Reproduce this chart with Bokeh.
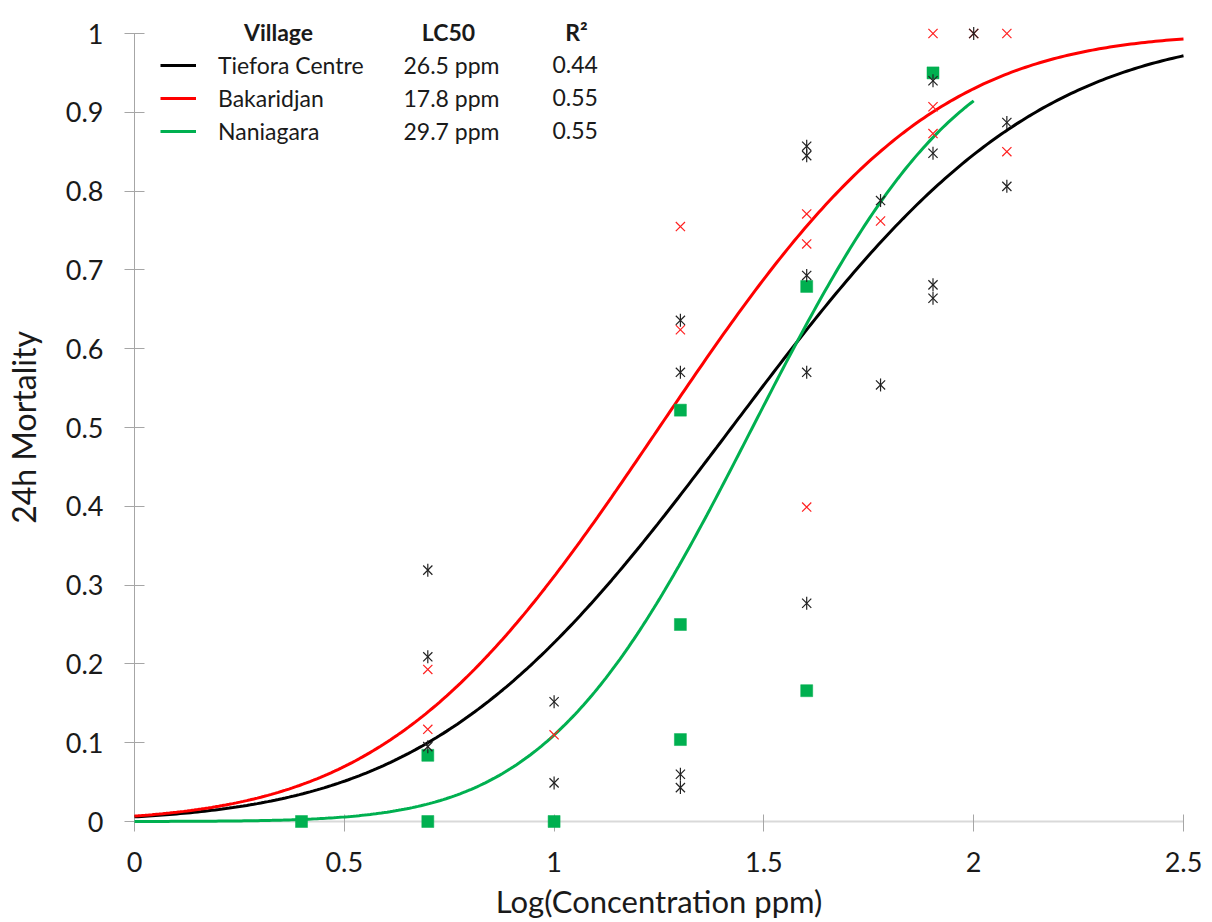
import math
import numpy as np
from bokeh.plotting import figure
from bokeh.models import Range1d, FixedTicker, Legend, LegendItem, Label
from bokeh.core.properties import value
from bokeh.embed import file_html
from bokeh.resources import INLINE

# ---------------- data ----------------
villages = ["Tiefora Centre", "Bakaridjan", "Naniagara"]
lc50_ppm = [26.5, 17.8, 29.7]
r_squared = [0.44, 0.55, 0.55]
probit_sigma = [0.565, 0.508, 0.385]     # slope (spread) of each fitted curve, log units
curve_x_max = [2.5, 2.5, 2.0]
curve_colors = ["#000000", "#ff0000", "#00b050"]
legend_headers = ["Village", "LC50", "R²"]

tiefora_x = [0.699, 0.699, 0.699, 1.0, 1.0, 1.301, 1.301, 1.301, 1.301,
             1.602, 1.602, 1.602, 1.602, 1.602, 1.778, 1.778,
             1.903, 1.903, 1.903, 1.903, 2.0, 2.079, 2.079]
tiefora_y = [0.319, 0.209, 0.095, 0.152, 0.049, 0.636, 0.570, 0.060, 0.043,
             0.857, 0.845, 0.693, 0.570, 0.277, 0.788, 0.554,
             0.940, 0.848, 0.681, 0.664, 1.0, 0.887, 0.806]

bakaridjan_x = [0.699, 0.699, 1.0, 1.301, 1.301, 1.602, 1.602, 1.602, 1.778,
                1.903, 1.903, 1.903, 2.0, 2.079, 2.079]
bakaridjan_y = [0.193, 0.117, 0.110, 0.755, 0.624, 0.771, 0.733, 0.399, 0.762,
                1.0, 0.907, 0.873, 1.0, 1.0, 0.850]

naniagara_x = [0.398, 0.699, 0.699, 1.0, 1.301, 1.301, 1.301, 1.602, 1.602, 1.903]
naniagara_y = [0.0, 0.0, 0.084, 0.0, 0.522, 0.250, 0.104, 0.679, 0.166, 0.950]

x_ticks = [0, 0.5, 1, 1.5, 2, 2.5]
x_tick_labels = ["0", "0.5", "1", "1.5", "2", "2.5"]
y_ticks = [0, 0.1, 0.2, 0.3, 0.4, 0.5, 0.6, 0.7, 0.8, 0.9, 1]
y_tick_labels = ["0", "0.1", "0.2", "0.3", "0.4", "0.5", "0.6", "0.7", "0.8", "0.9", "1"]

FONT = "Lato"

p = figure(width=1212, height=922, x_range=Range1d(0, 2.5), y_range=Range1d(0, 1),
           output_backend="svg", toolbar_location=None,
           min_border_left=133, min_border_right=29, min_border_top=33, min_border_bottom=100)
p.outline_line_color = None
p.xgrid.visible = False
p.ygrid.visible = False
p.background_fill_color = "white"
p.border_fill_color = "white"

# x axis
xa = p.xaxis[0]
xa.ticker = FixedTicker(ticks=x_ticks)
xa.major_label_overrides = {t: s for t, s in zip(x_ticks, x_tick_labels)}
xa.axis_line_color = "#d9d9d9"
xa.axis_line_width = 2
xa.major_tick_line_color = "#a6a6a6"
xa.major_tick_in = 7
xa.major_tick_out = 10
xa.minor_tick_line_color = None
xa.major_label_text_font = FONT
xa.major_label_text_font_size = "27px"
xa.major_label_text_color = "#1a1a1a"
xa.major_label_standoff = 20
xa.axis_label = "Log(Concentration ppm)"
xa.axis_label_text_font = FONT
xa.axis_label_text_font_size = "31px"
xa.axis_label_text_font_style = "normal"
xa.axis_label_text_color = "#1a1a1a"
xa.axis_label_standoff = 7

# y axis
ya = p.yaxis[0]
ya.ticker = FixedTicker(ticks=y_ticks)
ya.major_label_overrides = {t: s for t, s in zip(y_ticks, y_tick_labels)}
ya.axis_line_color = "#a6a6a6"
ya.axis_line_width = 1
ya.major_tick_line_color = "#a6a6a6"
ya.major_tick_in = 10
ya.major_tick_out = 10
ya.minor_tick_line_color = None
ya.major_label_text_font = FONT
ya.major_label_text_font_size = "27px"
ya.major_label_text_color = "#1a1a1a"
ya.major_label_standoff = 21
ya.axis_label = "24h Mortality"
ya.axis_label_text_font = FONT
ya.axis_label_text_font_size = "32px"
ya.axis_label_text_font_style = "normal"
ya.axis_label_text_color = "#1a1a1a"
ya.axis_label_standoff = 20


def probit(x, mu, sigma):
    return 0.5 * (1.0 + math.erf((x - mu) / (sigma * math.sqrt(2.0))))


# fitted dose-response curves (probit model from LC50 + slope)
curve_renderers = []
for lc, sg, xm, col in zip(lc50_ppm, probit_sigma, curve_x_max, curve_colors):
    mu = math.log10(lc)
    xs = np.linspace(0, xm, 300)
    ys = [probit(v, mu, sg) for v in xs]
    r = p.line(xs, ys, line_color=col, line_width=3, level="overlay")
    curve_renderers.append(r)

# observed points
p.scatter(naniagara_x, naniagara_y, marker="square", size=12,
          fill_color="#00b050", line_color="#00b050", line_width=0.5, level="overlay")
p.scatter(bakaridjan_x, bakaridjan_y, marker="x", size=13,
          line_color="#ff2020", line_width=1.2, level="overlay")
p.scatter(tiefora_x, tiefora_y, marker="x", size=13,
          line_color="#222222", line_width=1.2, level="overlay")
p.scatter(tiefora_x, tiefora_y, marker="dash", size=13, angle=math.pi / 2,
          line_color="#222222", line_width=1.2, level="overlay")

# legend (line swatches + village names)
legend = Legend(items=[LegendItem(label=v, renderers=[r]) for v, r in zip(villages, curve_renderers)],
                location=(26, 676), orientation="vertical",
                border_line_alpha=0, background_fill_alpha=0, padding=0, margin=0,
                spacing=5, glyph_width=36, glyph_height=26, label_height=26, label_standoff=22,
                label_text_font=FONT, label_text_font_size="23px", label_text_color="#1a1a1a")
p.add_layout(legend)

# legend table headers (anchored at the frame's top-left corner, offset in pixels)
p.text(x=[0, 0, 0], y=[1, 1, 1], text=legend_headers,
       x_offset=[144, 314, 442], y_offset=[-2, -2, -2],
       text_font=value(FONT), text_font_size="23px", text_font_style="bold",
       text_color="#1a1a1a", text_align="center", text_baseline="middle", level="overlay")

# LC50 and R² columns
cell_style = dict(x_units="screen", y_units="screen", text_font=FONT, text_font_size="23px",
                  text_color="#1a1a1a", text_align="left", text_baseline="middle")
row_y = [757, 724, 691]
for lc, r2, ry in zip(lc50_ppm, r_squared, row_y):
    p.add_layout(Label(x=269, y=ry, text=f"{lc} ppm", **cell_style))
    p.add_layout(Label(x=418, y=ry, text=f"{r2:.2f}", **cell_style))

open("out.html", "w").write(file_html(p, INLINE))
